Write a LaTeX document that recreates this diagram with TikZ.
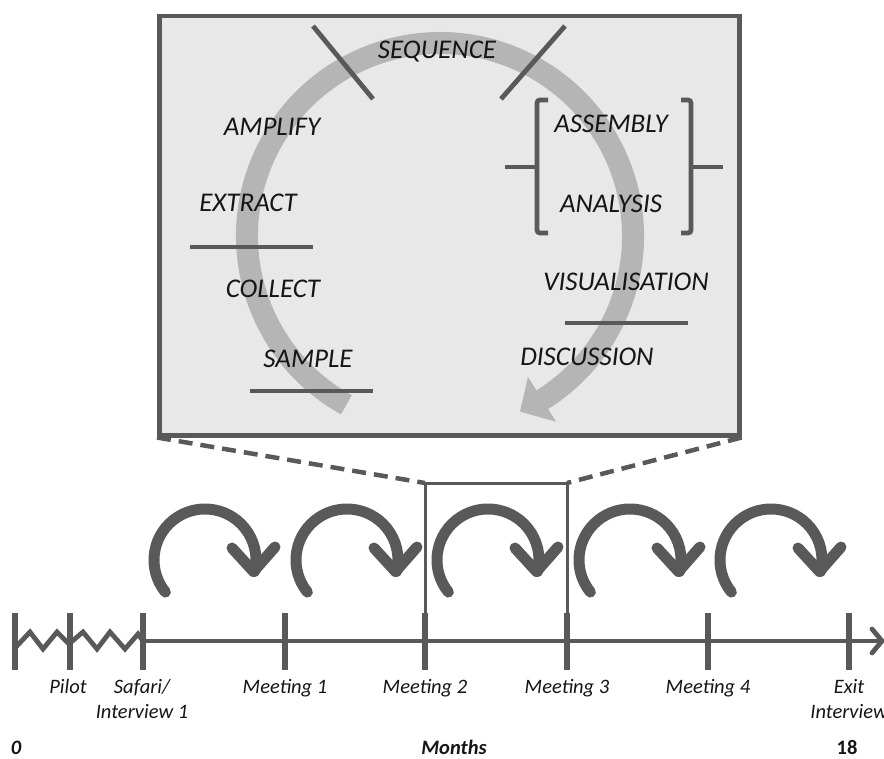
\documentclass[tikz,border=0pt]{standalone}
\usepackage{fontspec}
\setmainfont{Carlito}
\definecolor{dg}{HTML}{595959}
\definecolor{lg}{HTML}{B5B5B5}
\definecolor{boxfill}{HTML}{E8E8E8}
\definecolor{txt}{HTML}{151515}
\begin{document}
\begin{tikzpicture}[x=1pt,y=-1pt,
  darkline/.style={draw=dg,line width=4.8pt},
  tickline/.style={draw=dg,line width=5.5pt},
  thinbox/.style={draw=dg,line width=3pt},
  zoomdash/.style={draw=dg,line width=4.5pt,dash pattern=on 14pt off 8pt},
  cyclearrow/.style={draw=dg,line width=11pt,line cap=round,line join=round},
  biglabel/.style={text=txt,font=\fontsize{27}{30}\selectfont\itshape,inner sep=0pt},
  tlabel/.style={text=txt,font=\fontsize{20.5}{25}\selectfont\itshape,inner sep=0pt,align=center,anchor=north},
  axlabel/.style={text=txt,font=\fontsize{20.5}{24}\selectfont\bfseries,inner sep=0pt,anchor=base}
]
\useasboundingbox (0,0) rectangle (884,759);

% zoom box
\node[draw=dg,line width=4.5pt,fill=boxfill,minimum width=580pt,minimum height=419pt,
      inner sep=0pt,anchor=north west] (zoombox) at (157,14) {};

% big grey cycle arrow
\coordinate (cc) at (440,236);
\draw[lg,line width=22pt] ([shift={(119:193)}]cc) arc[start angle=119,end angle=419,radius=193];
\fill[lg] ([shift={(418:166)}]cc) -- ([shift={(425.5:193)}]cc) -- ([shift={(418:219)}]cc) -- cycle;

% dark bars
\draw[darkline] (313,26) coordinate (xa1) -- (373,99) coordinate (xa2);
\draw[darkline] (565,26) coordinate (xb1) -- (501,99) coordinate (xb2);
\draw[darkline] (190,247) coordinate (ea) -- (313,247) coordinate (eb);
\draw[darkline] (250,391) coordinate (sa) -- (373,391) coordinate (sb);
\draw[darkline] (565,323) coordinate (va) -- (688,323) coordinate (vb);
\draw[darkline,rounded corners=3pt] (548,100) -- (537,100) -- (537,233) -- (548,233);
\draw[darkline] (505,167) coordinate (lbt) -- (537,167) coordinate (lbm);
\draw[darkline,rounded corners=3pt] (681,100) -- (691,100) -- (691,233) -- (681,233);
\draw[darkline] (691,167) coordinate (rbm) -- (723,167) coordinate (rbt);

% box labels
\node[biglabel] (seq) at (437,52) {SEQUENCE};
\node[biglabel] (amp) at (272,127) {AMPLIFY};
\node[biglabel] (ext) at (248,203) {EXTRACT};
\node[biglabel] (col) at (273,289) {COLLECT};
\node[biglabel] (sam) at (308,359) {SAMPLE};
\node[biglabel] (asm) at (611,124) {ASSEMBLY};
\node[biglabel] (ana) at (611,204) {ANALYSIS};
\node[biglabel] (vis) at (626,282) {VISUALISATION};
\node[biglabel] (dis) at (587,357) {DISCUSSION};

% timeline coordinates
\coordinate (t0) at (15,641);
\coordinate (t1) at (70,641);
\coordinate (t2) at (143,641);
\coordinate (t3) at (285,641);
\coordinate (t4) at (425,641);
\coordinate (t5) at (567,641);
\coordinate (t6) at (708,641);
\coordinate (t7) at (849,641);
\coordinate (tend) at (882,641);

% small rectangle and dashed zoom lines
\coordinate (ra) at (425,668);
\coordinate (rb) at (425,483);
\coordinate (rc) at (567,483);
\coordinate (rd) at (567,668);
\draw[thinbox] (ra) -- (rb) -- (rc) -- (rd);
\draw[zoomdash] (zoombox.south west) -- (rb);
\draw[zoomdash] (zoombox.south east) -- (rc);

% timeline
\draw[darkline] (t2) -- (tend);
\draw[darkline,line join=round,line cap=round] (872,629) -- (tend) -- (872,653);
\draw[darkline,line join=miter] (t0) ++(0,7) -- (30,632) -- (43,649) -- (57,632) -- (70,645);
\draw[darkline,line join=miter] (70,643) -- (83,632) -- (97,649) -- (110,632) -- (125,649) -- (138,634) -- (t2);
\foreach \t in {t0,t1,t2,t3,t4,t5,t6,t7}{
  \draw[tickline] ([yshift=-29pt]\t) -- ([yshift=28pt]\t);
}

% cycle arrows
\foreach \cx [count=\i] in {205,347,488,630,771}{
  \coordinate (cyc\i) at (\cx,560);
  \draw[cyclearrow] ([shift={(141:51)}]cyc\i) arc[start angle=141,end angle=373,radius=51];
  \draw[cyclearrow] ([shift={(27,-12)}]cyc\i) -- ([shift={(48.5,11.5)}]cyc\i) -- ([shift={(70,-13)}]cyc\i);
}

% timeline labels
\node[tlabel] (pilot) at (68,679) {Pilot};
\node[tlabel] (safari) at (142,679) {Safari/\\Interview 1};
\node[tlabel] (m1) at (285,679) {Meeting 1};
\node[tlabel] (m2) at (425,679) {Meeting 2};
\node[tlabel] (m3) at (567,679) {Meeting 3};
\node[tlabel] (m4) at (708,679) {Meeting 4};
\node[tlabel] (exit) at (849,679) {Exit\\Interview};

% axis labels
\node[axlabel,font=\fontsize{20.5}{24}\selectfont\bfseries\itshape] (zero) at (16,754) {0};
\node[axlabel,font=\fontsize{20.5}{24}\selectfont\bfseries\itshape] (months) at (454,754) {Months};
\node[axlabel] (eighteen) at (847,754) {18};
\end{tikzpicture}
\end{document}
